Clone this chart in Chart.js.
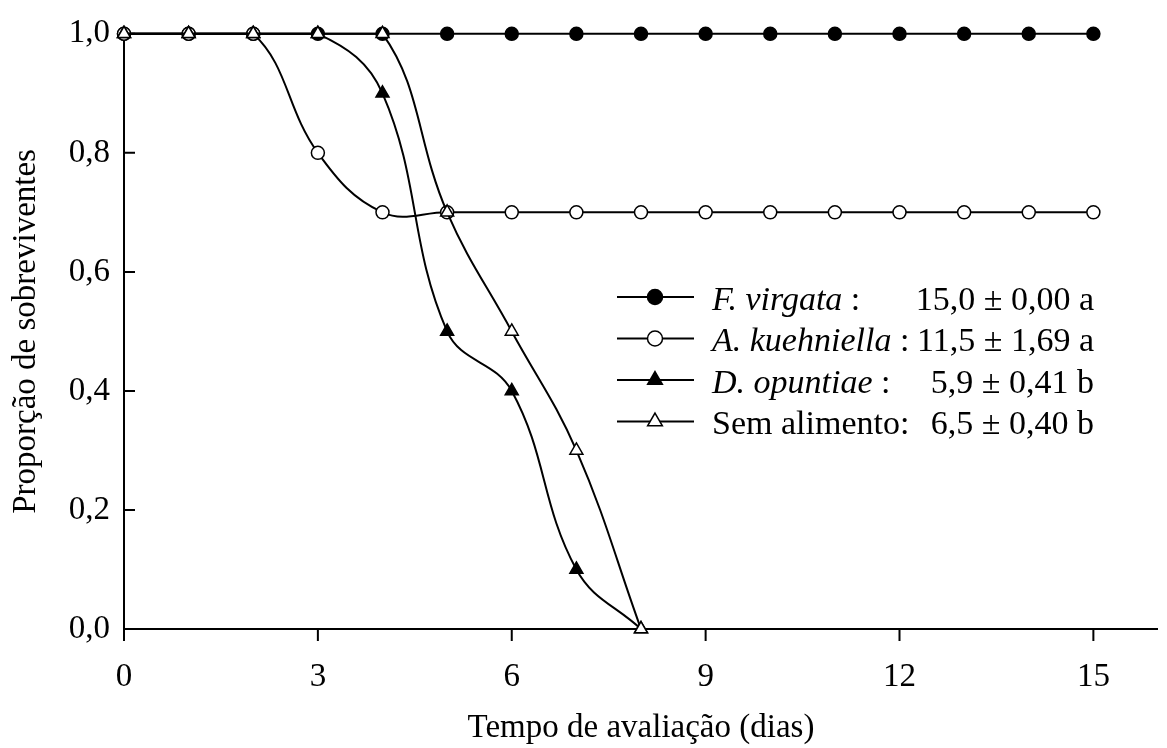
<!DOCTYPE html>
<html>
<head>
<meta charset="utf-8">
<script src="https://cdn.jsdelivr.net/npm/chart.js@4.4.1/dist/chart.umd.min.js"></script>
<style>
    html, body { margin: 0; padding: 0; background: #fff; }
    #wrap { width: 1167px; height: 748px; }
</style>
</head>
<body>
<div id="wrap"><canvas id="chart" width="1167" height="748"></canvas></div>
<script>
// data
var days = [0, 1, 2, 3, 4, 5, 6, 7, 8, 9, 10, 11, 12, 13, 14, 15];
var fVirgata = [1, 1, 1, 1, 1, 1, 1, 1, 1, 1, 1, 1, 1, 1, 1, 1];
var aKuehniella = [1, 1, 1, 0.8, 0.7, 0.7, 0.7, 0.7, 0.7, 0.7, 0.7, 0.7, 0.7, 0.7, 0.7, 0.7];
var dOpuntiae = [1, 1, 1, 1, 0.9, 0.5, 0.4, 0.1, 0.0];
var semAlimento = [1, 1, 1, 1, 1, 0.7, 0.5, 0.3, 0.0];

var seriesNames = ['F. virgata', 'A. kuehniella', 'D. opuntiae', 'Sem alimento'];
var seriesItalic = [true, true, true, false];
var seriesStats = ['15,0 \u00b1 0,00 a', '11,5 \u00b1 1,69 a', '5,9 \u00b1 0,41 b', '6,5 \u00b1 0,40 b'];

var xTicks = [0, 3, 6, 9, 12, 15];
var yTicks = [0, 0.2, 0.4, 0.6, 0.8, 1.0];

var FONT = '"Liberation Serif", "Times New Roman", serif';

function points(values) {
    return values.map(function (v, i) { return { x: days[i], y: v }; });
}

var styles = [
    { pointStyle: 'circle', fill: '#000', radius: 6.5 },
    { pointStyle: 'circle', fill: '#fff', radius: 6.5 },
    { pointStyle: 'triangle', fill: '#000', radius: 7.5 },
    { pointStyle: 'triangle', fill: '#fff', radius: 7.5 }
];
var allSeries = [fVirgata, aKuehniella, dOpuntiae, semAlimento];

var datasets = allSeries.map(function (values, i) {
    return {
        label: seriesNames[i],
        data: points(values),
        borderColor: '#000',
        borderWidth: 2,
        tension: 0.4,
        fill: false,
        clip: false,
        order: 3 - i,
        pointStyle: styles[i].pointStyle,
        pointRadius: styles[i].radius,
        pointBackgroundColor: styles[i].fill,
        pointBorderColor: '#000',
        pointBorderWidth: 1.5
    };
});

// axis lines and tick marks (y ticks point inward, x ticks outward)
var axesPlugin = {
    id: 'axes',
    beforeDatasetsDraw: function (chart) {
        var ctx = chart.ctx;
        var area = chart.chartArea;
        var xs = chart.scales.x;
        var ys = chart.scales.y;
        ctx.save();
        ctx.strokeStyle = '#000';
        ctx.lineWidth = 2;
        ctx.beginPath();
        ctx.moveTo(area.left, area.top);
        ctx.lineTo(area.left, area.bottom);
        ctx.lineTo(area.right, area.bottom);
        ys.ticks.forEach(function (t) {
            var py = ys.getPixelForValue(t.value);
            ctx.moveTo(area.left, py);
            ctx.lineTo(area.left + 11, py);
        });
        xs.ticks.forEach(function (t) {
            var px = xs.getPixelForValue(t.value);
            ctx.moveTo(px, area.bottom);
            ctx.lineTo(px, area.bottom + 12);
        });
        ctx.stroke();
        ctx.restore();
    }
};

// legend with italic species names and survival stats
var legendPlugin = {
    id: 'statLegend',
    afterDraw: function (chart) {
        var ctx = chart.ctx;
        ctx.save();
        seriesNames.forEach(function (name, i) {
            var rowY = 297 + i * 41.5;
            ctx.strokeStyle = '#000';
            ctx.lineWidth = 2;
            ctx.beginPath();
            ctx.moveTo(617, rowY);
            ctx.lineTo(694, rowY);
            ctx.stroke();

            ctx.fillStyle = styles[i].fill;
            ctx.strokeStyle = '#000';
            ctx.lineWidth = 1.5;
            Chart.helpers.drawPoint(ctx, {
                pointStyle: styles[i].pointStyle,
                radius: styles[i].radius + 1,
                rotation: 0,
                borderWidth: 1.5
            }, 655, rowY);

            var baseY = rowY + 12.5;
            ctx.fillStyle = '#000';
            ctx.textBaseline = 'alphabetic';
            ctx.textAlign = 'left';
            if (seriesItalic[i]) {
                ctx.font = 'italic 34px ' + FONT;
                ctx.fillText(name, 712, baseY);
                var w = ctx.measureText(name).width;
                ctx.font = '34px ' + FONT;
                ctx.fillText(' :', 712 + w, baseY);
            } else {
                ctx.font = '34px ' + FONT;
                ctx.fillText(name + ':', 712, baseY);
            }
            ctx.font = '34px ' + FONT;
            ctx.textAlign = 'right';
            ctx.fillText(seriesStats[i], 1094, baseY);
        });
        ctx.restore();
    }
};

var ctx = document.getElementById('chart').getContext('2d');
var chart = new Chart(ctx, {
    type: 'line',
    data: { datasets: datasets },
    options: {
        responsive: false,
        animation: false,
        devicePixelRatio: 1,
        layout: { padding: { left: 0, top: 24, right: 4, bottom: 0 } },
        plugins: {
            legend: { display: false },
            tooltip: { enabled: false }
        },
        scales: {
            x: {
                type: 'linear',
                min: 0,
                max: 16,
                afterBuildTicks: function (scale) {
                    scale.ticks = xTicks.map(function (v) { return { value: v }; });
                },
                afterFit: function (scale) { scale.height = 119; },
                grid: { display: false, drawTicks: false },
                border: { display: false },
                ticks: {
                    autoSkip: false,
                    maxRotation: 0,
                    padding: 29,
                    color: '#000',
                    font: { family: FONT, size: 33 }
                },
                title: {
                    display: true,
                    text: 'Tempo de avaliação (dias)',
                    color: '#000',
                    font: { family: FONT, size: 33 },
                    padding: { top: 0, bottom: 0 }
                }
            },
            y: {
                min: 0,
                max: 1,
                afterBuildTicks: function (scale) {
                    scale.ticks = yTicks.map(function (v) { return { value: v }; });
                },
                afterFit: function (scale) { scale.width = 124; },
                grid: { display: false, drawTicks: false },
                border: { display: false },
                ticks: {
                    padding: 14,
                    color: '#000',
                    font: { family: FONT, size: 33 },
                    callback: function (v) { return v.toFixed(1).replace('.', ','); }
                },
                title: {
                    display: true,
                    text: 'Proporção de sobreviventes',
                    color: '#000',
                    font: { family: FONT, size: 33 },
                    padding: { top: 7, bottom: 0 }
                }
            }
        }
    },
    plugins: [axesPlugin, legendPlugin]
});
</script>
</body>
</html>
